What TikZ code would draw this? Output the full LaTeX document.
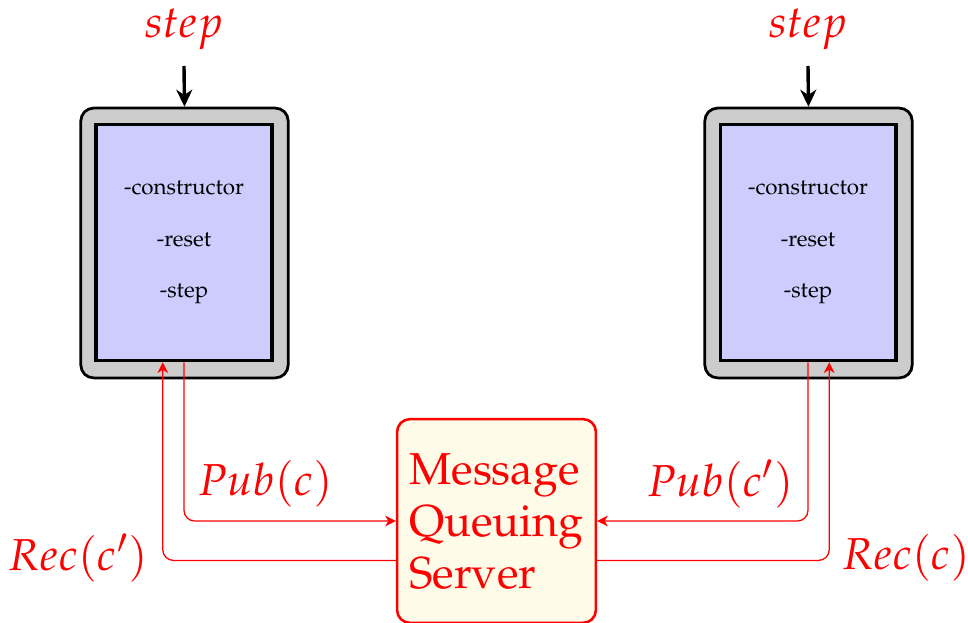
\documentclass[tikz,border=0pt]{standalone}
\usepackage[T1]{fontenc}
\usepackage{mathpazo}
\usepackage{tikz}
\usetikzlibrary{arrows.meta,positioning}
\definecolor{BoxGray}{RGB}{204,204,204}
\definecolor{BoxBlue}{RGB}{204,204,255}
\definecolor{ServerFill}{RGB}{254,251,233}
\tikzset{
  outerbox/.style={draw=black, line width=1.3pt, fill=BoxGray, rounded corners=6pt,
    minimum width=3.42cm, minimum height=4.45cm},
  innerbox/.style={draw=black, line width=1.5pt, fill=BoxBlue, align=center,
    minimum width=2.9cm, minimum height=3.9cm, font=\fontsize{10.5}{24}\selectfont},
  server/.style={draw=red, line width=1.2pt, fill=ServerFill, rounded corners=6pt,
    text=red, align=left, minimum width=3.28cm, minimum height=3.36cm,
    font=\fontsize{21}{24.4}\selectfont},
  lbl/.style={text=red, font=\fontsize{21}{25}\selectfont, inner sep=0pt},
  trig/.style={-{Stealth[length=8pt,width=7.5pt,inset=2.5pt]}, line width=1.6pt},
  sig/.style={-{Stealth[length=5pt,width=5pt,inset=1.5pt]}, red, line width=0.6pt, rounded corners=5pt},
}
\begin{document}
\begin{tikzpicture}[x=0.0165cm, y=-0.0165cm]
  \useasboundingbox (0,0) rectangle (968,623);

  \node[outerbox] (lout) at (184.5,243) {};
  \node[innerbox] (lin) at (184,242.5) {-constructor\\-reset\\-step};
  \node[outerbox] (rout) at (808.5,243) {};
  \node[innerbox] (rin) at (808,242.5) {-constructor\\-reset\\-step};

  \node[server] (srv) at (496.5,521) {Message\\Queuing\\Server};

  \node[lbl] (lstep) at (184,29) {$step$};
  \node[lbl] (rstep) at (808,29) {$step$};
  \coordinate (ltop) at (184,66);
  \coordinate (rtop) at (808,66);
  \draw[trig] (ltop) -- (lout.north);
  \draw[trig] (rtop) -- (rout.north);

  \draw[sig] (lin.south) |- (srv.west);
  \draw[sig] ([yshift=-0.65cm]srv.west) -| ([xshift=-0.35cm]lin.south);
  \draw[sig] (rin.south) |- (srv.east);
  \draw[sig] ([yshift=-0.65cm]srv.east) -| ([xshift=0.35cm]rin.south);

  \node[lbl] (lpub) at (265,484) {$Pub(c)$};
  \node[lbl] (lrec) at (78,558) {$Rec(c')$};
  \node[lbl] (rpub) at (720,484) {$Pub(c')$};
  \node[lbl] (rrec) at (906,558) {$Rec(c)$};
\end{tikzpicture}
\end{document}
